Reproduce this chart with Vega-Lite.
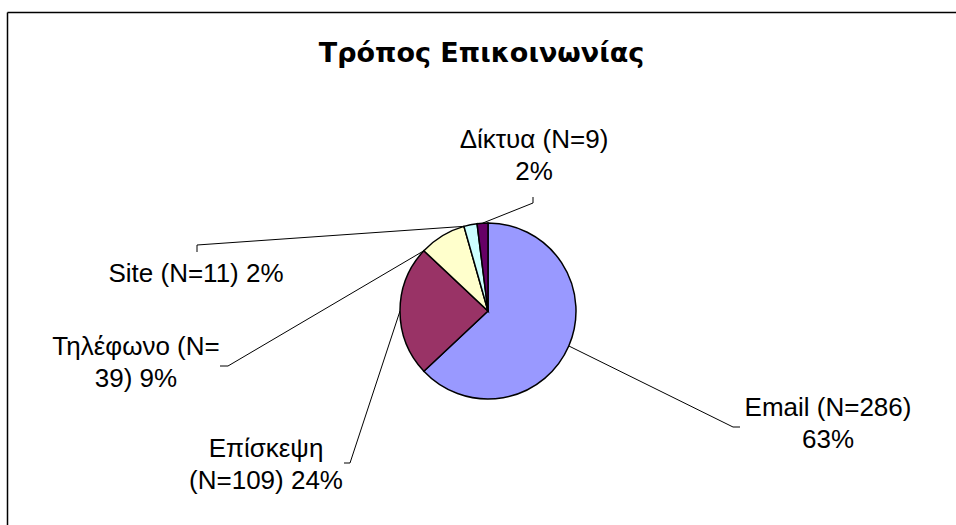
{
  "$schema": "https://vega.github.io/schema/vega-lite/v6.json",
  "autosize": "none",
  "padding": {"left": 7, "top": 12, "right": 0, "bottom": 0},
  "width": 949,
  "height": 513,
  "background": "white",
  "config": {
    "view": {"stroke": null},
    "font": "Liberation Sans"
  },
  "title": {
    "text": "Τρόπος Επικοινωνίας",
    "font": "DejaVu Sans",
    "fontSize": 27,
    "fontWeight": "bold",
    "color": "#000000",
    "anchor": "middle",
    "baseline": "alphabetic",
    "offset": -77
  },
  "data": {
    "values": [
      {"cat": "Email", "n": 286, "l1": "Email (N=286)", "l2": "63%"},
      {"cat": "Επίσκεψη", "n": 109, "l1": "Επίσκεψη", "l2": "(N=109) 24%"},
      {"cat": "Τηλέφωνο", "n": 39, "l1": "Τηλέφωνο (N=", "l2": "39) 9%"},
      {"cat": "Site", "n": 11, "l1": "Site (N=11) 2%", "l2": ""},
      {"cat": "Δίκτυα", "n": 9, "l1": "Δίκτυα (N=9)", "l2": "2%"}
    ]
  },
  "transform": [
    {"window": [{"op": "row_number", "as": "k"}]},
    {"joinaggregate": [{"op": "sum", "field": "n", "as": "total"}]},
    {"window": [{"op": "sum", "field": "n", "as": "cum"}], "sort": [{"field": "k", "order": "ascending"}], "frame": [null, 0]},
    {"calculate": "(datum.cum - datum.n) / datum.total", "as": "f0"},
    {"calculate": "datum.cum / datum.total", "as": "f1"},
    {"calculate": "(datum.f0 + datum.f1) / 2", "as": "fm"},
    {"calculate": "2 * PI * ((datum.cat === 'Τηλέφωνο' || datum.cat === 'Site') ? datum.f0 : datum.fm)", "as": "a"},
    {"calculate": "88 * sin(datum.a)", "as": "px"},
    {"calculate": "88 * cos(datum.a)", "as": "py"},
    {"calculate": "[245, -138, -260, -291, 45][datum.k - 1]", "as": "cx"},
    {"calculate": "[-116, -152, -55, 66, 108][datum.k - 1]", "as": "cy"},
    {"calculate": "[252, -144, -268, -291, 45][datum.k - 1]", "as": "ex"},
    {"calculate": "[-116, -152, -55, 59, 114][datum.k - 1]", "as": "ey"},
    {"calculate": "[340, -222, -352, -292, 46][datum.k - 1]", "as": "tx"},
    {"calculate": "[-105, -146, -44, 29, 163][datum.k - 1]", "as": "ty"},
    {"calculate": "datum.l2 ? datum.l1 + '\\n' + datum.l2 : datum.l1", "as": "lbl"}
  ],
  "layer": [
    {
      "mark": {"type": "rule", "stroke": "#000000", "strokeWidth": 1},
      "encoding": {
        "x": {"field": "px", "type": "quantitative", "scale": {"domain": [-481, 468], "nice": false, "zero": false},
              "axis": {"orient": "top", "domain": true, "ticks": false, "labels": false, "grid": false, "title": null, "domainColor": "#000000", "domainWidth": 1.5}},
        "y": {"field": "py", "type": "quantitative", "scale": {"domain": [-214, 299], "nice": false, "zero": false},
              "axis": {"orient": "left", "domain": true, "ticks": false, "labels": false, "grid": false, "title": null, "domainColor": "#000000", "domainWidth": 1.5}},
        "x2": {"field": "cx"},
        "y2": {"field": "cy"}
      }
    },
    {
      "mark": {"type": "rule", "stroke": "#000000", "strokeWidth": 1},
      "encoding": {
        "x": {"field": "cx", "type": "quantitative",
              "axis": {"orient": "top", "domain": true, "ticks": false, "labels": false, "grid": false, "title": null, "domainColor": "#000000", "domainWidth": 1.5}},
        "y": {"field": "cy", "type": "quantitative",
              "axis": {"orient": "left", "domain": true, "ticks": false, "labels": false, "grid": false, "title": null, "domainColor": "#000000", "domainWidth": 1.5}},
        "x2": {"field": "ex"},
        "y2": {"field": "ey"}
      }
    },
    {
      "mark": {"type": "arc", "outerRadius": 88, "stroke": "#000000", "strokeWidth": 1.5},
      "encoding": {
        "theta": {"field": "f0", "type": "quantitative", "scale": {"domain": [0, 1], "range": [0, 6.283185307179586]}},
        "theta2": {"field": "f1"},
        "x": {"datum": 0, "type": "quantitative",
              "axis": {"orient": "top", "domain": true, "ticks": false, "labels": false, "grid": false, "title": null, "domainColor": "#000000", "domainWidth": 1.5}},
        "y": {"datum": 0, "type": "quantitative",
              "axis": {"orient": "left", "domain": true, "ticks": false, "labels": false, "grid": false, "title": null, "domainColor": "#000000", "domainWidth": 1.5}},
        "color": {
          "field": "cat",
          "type": "nominal",
          "scale": {
            "domain": ["Email", "Επίσκεψη", "Τηλέφωνο", "Site", "Δίκτυα"],
            "range": ["#9999FF", "#993366", "#FFFFCC", "#CCFFFF", "#660066"]
          },
          "legend": null
        }
      }
    },
    {
      "mark": {"type": "text", "font": "Liberation Sans", "fontSize": 26, "align": "center", "baseline": "alphabetic", "lineBreak": "\n", "lineHeight": 32, "color": "#000000"},
      "encoding": {
        "x": {"field": "tx", "type": "quantitative",
              "axis": {"orient": "top", "domain": true, "ticks": false, "labels": false, "grid": false, "title": null, "domainColor": "#000000", "domainWidth": 1.5}},
        "y": {"field": "ty", "type": "quantitative",
              "axis": {"orient": "left", "domain": true, "ticks": false, "labels": false, "grid": false, "title": null, "domainColor": "#000000", "domainWidth": 1.5}},
        "text": {"field": "lbl"}
      }
    }
  ]
}
